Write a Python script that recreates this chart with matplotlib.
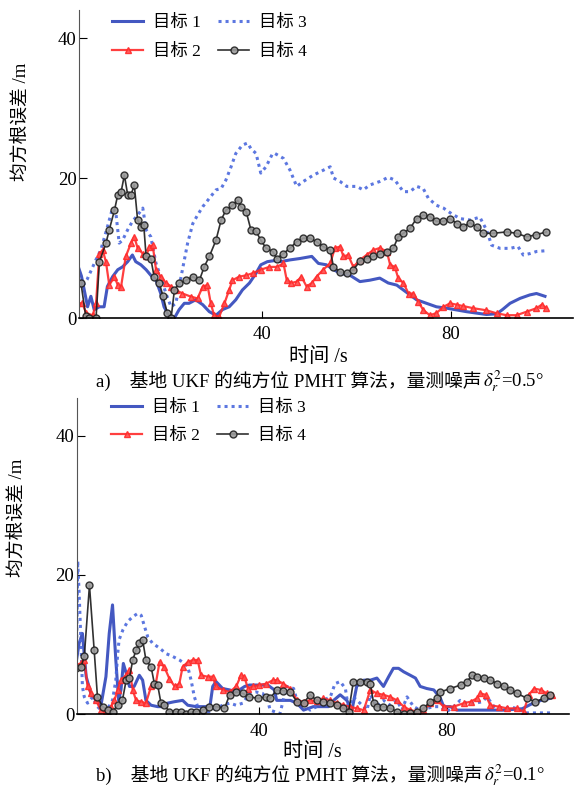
import numpy as np
import matplotlib
matplotlib.use("Agg")
import matplotlib.pyplot as plt
from matplotlib.offsetbox import TextArea, HPacker, AnchoredOffsetbox

plt.rcParams['font.family'] = ['Liberation Serif', 'Noto Sans CJK SC']
plt.rcParams['mathtext.fontset'] = 'stix'

# RMSE (m) against time (s); (t, err) pairs per target
# panel a: noise 0.5 deg
a_tgt1 = [(1, 7.6), (1.8, 6), (2.4, 4), (3.1, 1.6), (3.8, 3.1), (4.5, 1.2), (5.6, 1.6), (6.6, 1.6),
          (7.3, 4.5), (8.4, 5.9), (9.5, 6.9), (10.5, 7.3), (11.6, 8.05), (12.6, 9), (13.3, 8.05),
          (14.4, 7.6), (15.5, 6.9), (16.5, 6.1), (17.6, 5.4), (18.6, 3.5), (19.3, 1.6), (20.4, 0.2),
          (21.5, 0), (22.5, 1.2), (23.6, 2.1), (24.6, 2.1), (26, 2.6), (27.5, 1.9), (28.9, 0.9),
          (30.3, 0.4), (31.7, 1.2), (33.1, 1.6), (34.5, 2.6), (35.9, 4), (37.4, 5), (38.8, 6.4),
          (39.8, 7.6), (41.2, 8.05), (42.7, 8.2), (44, 8.05), (46, 8.3), (48.1, 8.5), (50.6, 8.8),
          (52, 7.8), (53.7, 7.6), (55.2, 6.9), (56.6, 6.4), (58.7, 6.1), (60.8, 5.2), (62.9, 5.4),
          (65, 5.7), (66.8, 5), (68.6, 4.7), (70, 4), (71.4, 3.3), (72.8, 2.6), (74.9, 2.1),
          (77, 1.6), (79.2, 1.4), (81.3, 1.15), (83.4, 0.9), (85.5, 0.7), (87.6, 0.5), (89.8, 0.6),
          (91, 1.2), (92.6, 2.1), (94.7, 2.8), (96.8, 3.3), (98.2, 3.5), (100, 3.1)]
a_tgt2 = [(1, 2.1), (2, 2.1), (2.8, 0.7), (4.2, 0.4), (4.9, 2.1), (5.6, 9.2), (6.3, 9.7), (7, 8),
          (7.7, 4.7), (8.8, 5.9), (9.5, 4.7), (10.2, 4.5), (11.2, 8.8), (12.3, 10.7), (13, 11.6),
          (13.7, 10), (14.8, 9.2), (15.5, 8.8), (16.2, 10.2), (16.9, 10.4), (17.6, 6.9), (18.6, 5.9),
          (19.7, 5), (20.8, 4.5), (21.8, 4), (23.2, 3.5), (25, 3.05), (26.4, 2.8), (27.5, 4.5),
          (28.5, 4.7), (29.2, 2.1), (29.9, 0.4), (31, 0.2), (32.1, 2.1), (33.1, 4), (33.8, 5.4),
          (35.2, 5.9), (36.7, 6.1), (38.1, 6.4), (39.8, 6.9), (41.6, 7.3), (43.2, 7.3), (44.6, 7.8),
          (45.3, 5.4), (46.3, 5), (47.4, 5.2), (48.4, 5.9), (49.5, 4.5), (50.6, 5), (51.6, 5.9),
          (53, 6.9), (54.5, 7.8), (55.5, 10), (56.6, 10.2), (57.3, 8.8), (58.3, 9), (59.4, 7.3),
          (60.8, 8.3), (62.2, 9), (63.6, 9.7), (65, 10), (66.5, 9.5), (67.2, 7.6), (68.2, 7.3),
          (68.9, 5.7), (70, 5), (71.1, 3.5), (72.1, 3.5), (73.2, 2.3), (74.2, 1.15), (75.6, 0.4),
          (77, 0.7), (78.5, 1.6), (79.9, 2.1), (81.3, 1.9), (82.7, 1.7), (84.8, 1.4), (87.6, 1.1),
          (89.8, 0.66), (91.9, 0.4), (94, 0.4), (96.1, 0.9), (98.2, 1.4), (99.3, 1.9), (100.3, 1.4)]
a_tgt3 = [(1, 5), (2, 4.5), (3, 5.5), (4, 7), (5, 8.5), (5.9, 9.7), (7.3, 13), (8.4, 15.7), (9.1, 15),
          (9.8, 10.7), (10.5, 11.1), (11.6, 12.6), (12.6, 13.8), (13.7, 14.7), (14.8, 15.7),
          (15.5, 12.6), (16.5, 11.6), (17.6, 7.8), (18.6, 5.9), (19.7, 3.5), (20.8, 1.6), (21.8, 2.1),
          (22.5, 4.5), (23.2, 6.9), (24.3, 10.7), (25.4, 13.5), (26.4, 14.7), (27.5, 15.9),
          (28.9, 17.1), (30.3, 18.3), (31.4, 18.5), (32.4, 19.7), (33.5, 21.6), (34.5, 23.5),
          (35.9, 24.7), (37, 25), (37.7, 24.2), (38.8, 23.5), (39.8, 20.7), (40.9, 21.6), (42.3, 23.5),
          (42.8, 23.5), (44.6, 22.8), (46, 21.1), (47.4, 18.8), (48.8, 19.5), (50.9, 20.4), (53, 21.1),
          (54.5, 21.6), (55.2, 20), (56.6, 19.5), (58, 18.8), (60.1, 18.8), (61.5, 18.3), (62.9, 19),
          (65, 19.5), (66.8, 20.1), (68.2, 19.7), (70, 18.05), (71.4, 18.05), (72.8, 18.8),
          (74.2, 18.5), (75.3, 17.1), (77, 16.1), (78.5, 15.7), (80.2, 14.9), (82, 14.2), (84.1, 14),
          (86.2, 14.4), (87.6, 12.6), (88.7, 10.4), (90.5, 9.95), (92.6, 9.95), (94.3, 10.2),
          (95.4, 9), (96.8, 9.2), (98.2, 9.5), (100, 9.6)]
a_tgt4 = [(1, 5), (1.7, 5), (2.7, 0.3), (3.5, 0), (4.9, 0), (5.6, 8), (7, 10.7), (7.7, 12.6),
          (8.8, 15.4), (9.5, 17.6), (10.2, 18), (10.9, 20.4), (11.6, 17.6), (12.3, 17.6), (13, 19),
          (13.7, 14), (14.4, 13), (15, 13.3), (15.5, 8.8), (16.5, 8.5), (17.2, 5.9), (18.3, 5),
          (19.1, 3.1), (20, 0.7), (20.8, 0), (21.5, 4), (22.5, 5), (24, 5.4), (25.4, 5.9), (26.8, 5.4),
          (27.8, 7.3), (28.9, 8.8), (30.3, 11.1), (31.4, 14), (32.4, 15.4), (33.8, 16.1), (34.9, 16.8),
          (35.6, 15.9), (36.7, 15.2), (37.7, 12.6), (38.8, 12.4), (39.8, 11.1), (40.9, 10),
          (42.3, 9.5), (43.2, 8.5), (44.6, 9.2), (46, 10), (47.4, 10.9), (48.8, 11.4), (50.2, 11.4),
          (51.6, 10.9), (53, 10.2), (54.5, 9.7), (55.2, 7.3), (56.6, 6.6), (58, 6.4), (59.4, 6.9),
          (60.8, 8.1), (62.2, 8.5), (63.6, 8.8), (65, 9.1), (66.5, 9.5), (67.9, 10), (68.9, 11.6),
          (70, 12.1), (71.4, 12.8), (72.8, 14.2), (74.2, 14.7), (75.6, 14.5), (77, 13.8), (78.5, 13.8),
          (79.9, 14.2), (81.3, 13.5), (82.7, 13.05), (84.1, 13.6), (85.5, 13), (86.9, 12.1),
          (89, 12.1), (91.9, 12.3), (94, 12.1), (96.1, 11.6), (98.2, 11.9), (100.3, 12.3)]

# panel b: noise 0.1 deg
b_tgt1 = [(1.3, 8), (1.8, 10.2), (2.5, 11.6), (3.3, 5.4), (4.3, 3), (5.4, 2), (6.4, 1.1), (7.5, 5.4),
          (8.2, 11.6), (8.9, 15.7), (9.6, 7.8), (10.2, 2), (10.7, 3.5), (11.2, 7.3), (11.8, 5.9),
          (12.5, 4), (13.5, 4), (14.6, 5.6), (15.3, 4.9), (16, 2), (17.1, 1.3), (18.5, 1.1),
          (19.6, 1.1), (20.6, 1.6), (22, 1.8), (23.8, 2), (24.9, 1.3), (26.7, 1.1), (28.4, 1.1),
          (29.6, 1.1), (30.2, 4), (30.9, 4.7), (32.3, 3.7), (33.8, 3.5), (35.2, 3.2), (37, 4), (38, 4.2),
          (39.8, 4.2), (41.9, 4.2), (43.3, 3.5), (43.8, 2), (46.7, 2), (48.1, 1.6), (49.5, 0.6),
          (51.6, 1.1), (53, 1.1), (54.8, 1.1), (55.9, 2), (57.3, 2.8), (58.7, 2), (59.8, 0.6),
          (60.8, 4), (62.3, 4.9), (63.7, 4.9), (65.1, 5.2), (66.5, 4), (67.6, 5.4), (68.6, 6.6),
          (69.7, 6.6), (70.8, 6.1), (72.2, 5.6), (73.3, 5.2), (74.3, 4), (75.7, 3.7), (77.2, 3.5),
          (78.6, 2.3), (79.3, 1.1), (80.7, 1.1), (82.1, 0.6), (84.2, 0.6), (88, 0.6), (92, 0.6),
          (96, 0.8), (98, 1.5), (100, 2), (102, 2.3)]
b_tgt2 = [(1.1, 7.1), (2.2, 7.3), (2.9, 7.8), (3.6, 4), (4.3, 3), (5.4, 2), (6.4, 0.6), (7.5, 0.4),
          (8.6, 1.1), (9.3, 2), (10, 3.5), (10.7, 4.9), (11.8, 5.6), (12.5, 6.4), (13.2, 3.5),
          (13.9, 2), (15, 1.8), (16, 1.6), (17.1, 4), (18.1, 4.4), (18.9, 7.5), (19.9, 6.8), (21, 5.1),
          (22.1, 4), (23.1, 4.4), (23.8, 6.8), (24.9, 7.5), (26, 7.8), (27, 7.8), (27.7, 5.6),
          (29.1, 5.4), (30.2, 5.4), (30.9, 4), (32.3, 3.5), (33.8, 3.2), (35.2, 4), (36.2, 5.6),
          (36.9, 5.4), (37.7, 3.7), (38.7, 4), (40.1, 4.2), (41.6, 4.4), (43, 4.9), (43.8, 4.9),
          (45.2, 4.4), (46.7, 3.7), (48.1, 2), (49.5, 1.8), (50.9, 2), (52.3, 1.9), (53.7, 2.3),
          (55.2, 2), (56.6, 1.6), (58, 1.3), (59.4, 1.1), (60.8, 0.85), (62.3, 0.6), (63.7, 3.5),
          (65.1, 3), (66.5, 2.8), (67.9, 2.5), (69.4, 2), (70.8, 1.1), (72.2, 0.6), (73.6, 0.4),
          (75, 0.6), (76.4, 1.6), (77.9, 2), (79.3, 1.1), (81.4, 1.1), (83.6, 1.6), (85, 1.8),
          (86.4, 2.3), (87.1, 3), (88.2, 2.8), (89.2, 1.3), (91, 1.1), (92.8, 0.85), (94.9, 0.85),
          (96.3, 0.4), (97.4, 2.8), (98.5, 3.7), (99.9, 3.5), (101.3, 3), (102.4, 2.8)]
b_tgt3 = [(1.3, 11), (1.5, 22), (1.8, 17.4), (2.2, 10.2), (2.5, 4), (2.9, 2.5), (3.6, 1.6), (4.7, 2.5),
          (5.7, 1.1), (6.8, 0.4), (7.9, 0.85), (8.9, 2), (9.6, 4.9), (10, 8.7), (10.3, 10.7),
          (11.1, 12.1), (12.1, 13.3), (13.2, 14), (14.3, 14.5), (15, 14.2), (15.7, 12.6), (16.4, 11.1),
          (17.4, 10.2), (18.9, 9.5), (20.3, 8.7), (21.7, 8.3), (23.1, 7.8), (24.2, 7.3), (24.9, 6.8),
          (25.6, 4.9), (26.3, 2.5), (27, 1.1), (28.1, 0.4), (29.5, 0.4), (30.9, 0.85), (32.3, 1.3),
          (33.8, 1.6), (35.2, 1.3), (36.6, 1.6), (38, 3), (39.4, 3.2), (40.8, 3), (41.9, 2),
          (42.4, 0.6), (44.5, 0.1), (45.9, 4), (47.4, 3.7), (48.1, 2), (49.5, 1.6), (50.9, 0.6),
          (52.3, 1.1), (53.7, 2), (55.2, 2.5), (56.2, 4.4), (57.3, 4.7), (58.4, 3.7), (59.1, 0.6),
          (60.1, 2.5), (61.5, 1.6), (63, 0.6), (63.7, 2.8), (65.1, 1.1), (66.5, 2), (67.9, 1.3),
          (69.4, 2), (70.4, 0.6), (71.5, 2.5), (72.9, 1.1), (74.3, 0.6), (75.7, 0.85), (77.2, 1.1),
          (78.6, 1.1), (80, 0.4), (81.4, 1.1), (82.8, 2), (84.2, 1.6), (86, 1.6), (87.5, 1.8),
          (88.5, 2.5), (90, 1.1), (92, 0.9), (94, 1), (95.5, 0.6), (97, 0.2), (99, 0.2), (101, 0.2),
          (102.5, 0.2)]
b_tgt4 = [(1.1, 6.6), (2.2, 6.8), (2.9, 8.3), (4, 18.5), (5, 9.2), (5.7, 2.5), (6.8, 1.1), (7.9, 0.6),
          (8.9, 0.4), (10, 1.3), (11, 2), (11.8, 4.9), (12.5, 5.2), (13.2, 7.8), (13.9, 9.2),
          (14.6, 10.2), (15.3, 10.7), (16, 7.8), (17.1, 6.8), (17.8, 4.4), (18.5, 4.2), (19.2, 1.6),
          (19.9, 1.3), (21, 0.4), (22.4, 0.4), (23.5, 0.3), (24.5, 0.1), (25.6, 0.3), (26.7, 0.4),
          (28.1, 0.6), (29.5, 1.1), (30.9, 1.1), (32.7, 0.85), (33.8, 2.8), (35.2, 3.2), (36.6, 3),
          (38, 2.5), (39.8, 2.3), (41.6, 2.5), (42.4, 2.3), (43.8, 3.5), (45.2, 3.4), (46.7, 3.2),
          (48.1, 1.8), (49.5, 1.6), (50.9, 2.8), (52.3, 2), (53.7, 1.8), (55.2, 1.6), (56.6, 1.3),
          (58, 0.85), (59.1, 0.4), (60.1, 4.7), (61.5, 4.7), (63, 4.7), (63.7, 4.4), (64.4, 1.6),
          (65.1, 1.1), (66.5, 1.1), (67.9, 0.85), (69.4, 0.4), (70.8, 0), (72.2, 0.13), (73.6, 0.4),
          (75, 0.85), (76.4, 1.8), (77.9, 2.3), (78.6, 3.2), (80.7, 3.7), (82.9, 4.2), (84.3, 4.7),
          (85.3, 5.6), (86.4, 5.4), (87.8, 5.2), (89.2, 4.9), (90.7, 4.4), (92.1, 4), (93.5, 3.5),
          (94.9, 3), (97, 2.3), (98.8, 1.8), (100.6, 2.3), (102, 2.8)]

labels = ['目标 1', '目标 2', '目标 3', '目标 4']
x_ticks = [40, 80]
y_ticks = [0, 20, 40]
captions = [('a)    基地 UKF 的纯方位 PMHT 算法，量测噪声', r'$\delta_r^2$=0.5°'),
            ('b)    基地 UKF 的纯方位 PMHT 算法，量测噪声', r'$\delta_r^2$=0.1°')]

FONT = ['Liberation Serif', 'Noto Sans CJK SC']
W, H = 583, 788

fig = plt.figure(figsize=(W / 100, H / 100), dpi=100)


def px_axes(left, top, right, bottom):
    return fig.add_axes([left / W, 1 - bottom / H, (right - left) / W, (bottom - top) / H])


def draw_panel(ax, series, ymax, caption, lay):
    s1, s2, s3, s4 = [np.array(s) for s in series]
    h1, = ax.plot(s1[:, 0], s1[:, 1], color='#2f46bb', lw=2.2, alpha=0.9)
    h3, = ax.plot(s3[:, 0], s3[:, 1], color='#4a68dd', lw=2.2, ls=(0, (1, 1.3)), alpha=0.9)
    h2, = ax.plot(s2[:, 0], s2[:, 1], color='#ff2a2a', lw=1.6, marker='^', ms=5,
                  mfc='#ff5050', mec='#ff2a2a', alpha=0.9)
    h4, = ax.plot(s4[:, 0], s4[:, 1], color='#1a1a1a', lw=1.2, marker='o', ms=5,
                  mfc='#9a9a9a', mec='#222222', mew=1.0, alpha=0.9)

    ax.set_xlim(1.35, 106)
    ax.set_ylim(0, ymax)
    for side in ('top', 'right'):
        ax.spines[side].set_visible(False)
    ax.spines['left'].set_color('#555555')
    ax.spines['bottom'].set_linewidth(1.2)
    ax.set_xticks(x_ticks)
    ax.set_yticks(y_ticks)
    ax.tick_params(axis='x', direction='in', length=5, labelsize=13.5, pad=6)
    ax.tick_params(axis='y', direction='in', length=6, labelsize=13.5, pad=2)
    for lab in ax.get_xticklabels() + ax.get_yticklabels():
        lab.set_family(FONT)

    ax.set_xlabel('时间 /s', family=FONT, fontsize=14.5, va='center')
    ax.xaxis.set_label_coords(*lay['xlabel'])
    ax.set_ylabel('均方根误差 /m', family=FONT, fontsize=13.5, va='center')
    ax.yaxis.set_label_coords(*lay['ylabel'])

    ax.legend([h1, h2, h3, h4], labels, ncol=2, loc='upper left',
              bbox_to_anchor=lay['legend'], frameon=False, numpoints=1,
              handlelength=1.8, handletextpad=0.55, columnspacing=1.0,
              labelspacing=0.7, borderpad=0, borderaxespad=0,
              prop={'family': FONT, 'size': 12.5})

    text_part, math_part = caption
    box = HPacker(children=[TextArea(text_part, textprops=dict(family=FONT, fontsize=13.5)),
                            TextArea(math_part, textprops=dict(family='Liberation Serif',
                                                               fontsize=13.5))],
                  align='baseline', pad=0, sep=1)
    anchored = AnchoredOffsetbox(loc='center', child=box, frameon=False, pad=0, borderpad=0,
                                 bbox_to_anchor=(320 / W, 1 - lay['caption'] / H),
                                 bbox_transform=fig.transFigure)
    ax.add_artist(anchored)


ax_a = px_axes(79.3, 10, 573.3, 318)
draw_panel(ax_a, [a_tgt1, a_tgt2, a_tgt3, a_tgt4], 44, captions[0],
           {'xlabel': (0.483, -0.127), 'ylabel': (-0.118, 0.636),
            'legend': (0.066, 0.983), 'caption': 381})

ax_b = px_axes(77, 398, 569.3, 714.3)
draw_panel(ax_b, [b_tgt1, b_tgt2, b_tgt3, b_tgt4], 45.4, captions[1],
           {'xlabel': (0.479, -0.122), 'ylabel': (-0.122, 0.62),
            'legend': (0.069, 0.995), 'caption': 775})

fig.savefig('out.png', dpi=100)
